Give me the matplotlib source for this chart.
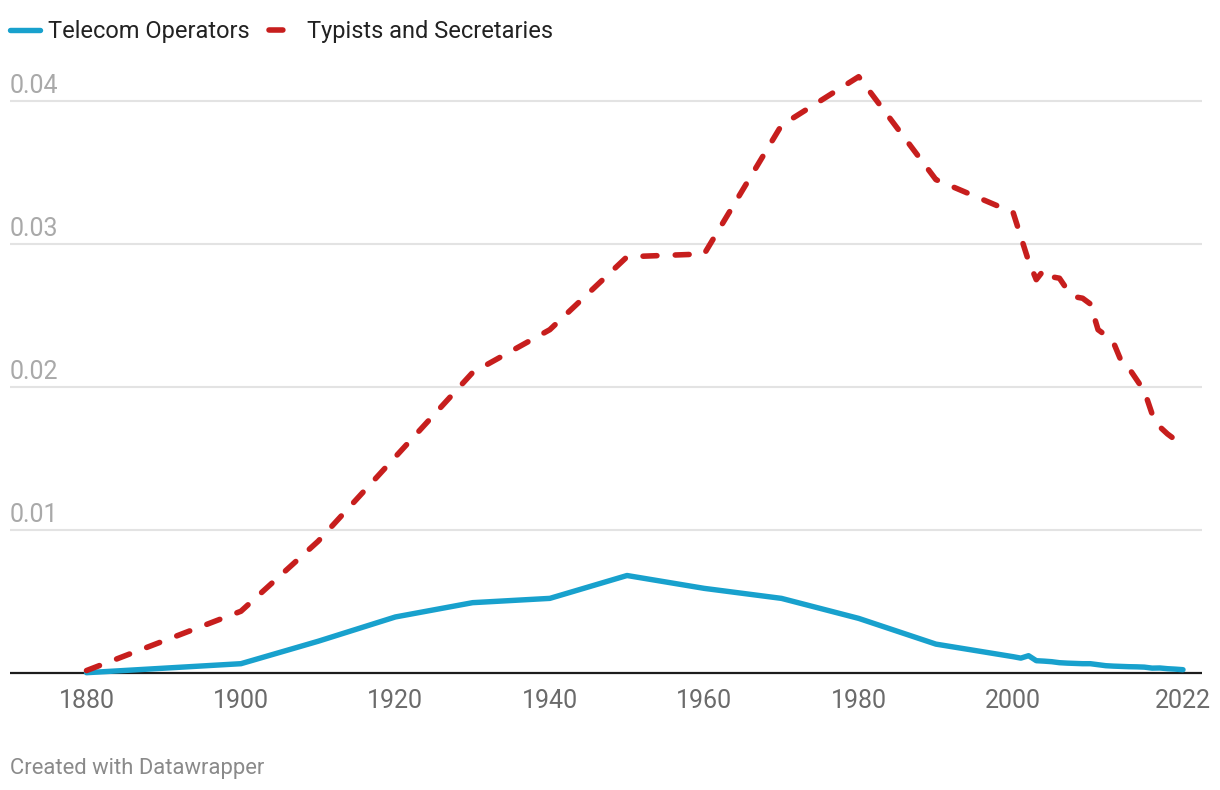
import matplotlib
matplotlib.use("Agg")
import matplotlib.pyplot as plt

plt.rcParams['font.family'] = ['Roboto', 'DejaVu Sans']

years = [1880, 1900, 1910, 1920, 1930, 1940, 1950, 1960, 1970, 1980, 1990,
         2000, 2001, 2002, 2003, 2004, 2005, 2006, 2007, 2008, 2009, 2010,
         2011, 2012, 2013, 2014, 2015, 2016, 2017, 2018, 2019, 2020, 2021, 2022]

telecom = [0.0000, 0.00063, 0.0022, 0.0039, 0.0049, 0.0052, 0.0068, 0.0059, 0.0052, 0.0038, 0.0020,
           0.00112, 0.00102, 0.00119, 0.00084, 0.00081, 0.00077, 0.00070, 0.00067, 0.00065, 0.00063, 0.00063,
           0.00056, 0.00049, 0.00046, 0.00044, 0.00042, 0.00041, 0.00039, 0.00032, 0.00033, 0.00028, 0.00025, 0.00021]

typists = [0.00015, 0.0043, 0.0092, 0.0151, 0.0210, 0.0240, 0.0291, 0.0293, 0.0383, 0.0417, 0.0345,
           0.0322, 0.0305, 0.0288, 0.0275, 0.0282, 0.0277, 0.0276, 0.0268, 0.0263, 0.0262, 0.0258,
           0.0240, 0.0236, 0.0231, 0.0218, 0.0213, 0.0205, 0.0197, 0.0181, 0.0172, 0.0167, 0.0163, 0.0158]

series_names = ["Telecom Operators", "Typists and Secretaries"]
x_ticks = [1880, 1900, 1920, 1940, 1960, 1980, 2000, 2022]
y_ticks = [0.01, 0.02, 0.03, 0.04]
y_tick_labels = ["0.01", "0.02", "0.03", "0.04"]
credit = "Created with Datawrapper"

BLUE = "#18a1cd"
RED = "#c71e1d"

W, H = 1220, 790
fig = plt.figure(figsize=(W / 100, H / 100), dpi=100)
ax_left, ax_right, ax_top, ax_bottom = 10, 1202, 62, 690
ax = fig.add_axes([ax_left / W, (H - ax_bottom) / H, (ax_right - ax_left) / W, (ax_bottom - ax_top) / H])

px_per_year = (1183 - 86.5) / (2022 - 1880)
x0 = 1880 - (86.5 - ax_left) / px_per_year
x1 = 2022 + (ax_right - 1183) / px_per_year
px_per_unit = (672.7 - 101) / 0.04
y1 = (672.7 - ax_top) / px_per_unit
y0 = -(ax_bottom - 672.7) / px_per_unit
ax.set_xlim(x0, x1)
ax.set_ylim(y0, y1)

for s in ax.spines.values():
    s.set_visible(False)

ax.set_yticks(y_ticks)
ax.yaxis.grid(True, color="#e3e3e3", linewidth=1.5)
ax.tick_params(axis='y', length=0, labelleft=False)
ax.set_axisbelow(True)
for v, lab in zip(y_ticks, y_tick_labels):
    ax.annotate(lab, xy=(0, v), xycoords=('axes fraction', 'data'),
                xytext=(0, 5.5), textcoords='offset points',
                ha='left', va='baseline', fontsize=18, color="#a9a9a9")

ax.axhline(0, color="#1d1d1d", linewidth=1.6, zorder=2)

ax.set_xticks(x_ticks)
ax.set_xticklabels([str(t) for t in x_ticks])
ax.tick_params(axis='x', length=0, pad=-1, labelsize=18, labelcolor="#6b6b6b")

ax.plot(years, telecom, color=BLUE, linewidth=3.9, solid_capstyle='round',
        solid_joinstyle='round', zorder=3, label=series_names[0])
ax.plot(years, typists, color=RED, linewidth=4.0, dashes=(2.5, 3.3),
        dash_capstyle='round', dash_joinstyle='round', zorder=4, label=series_names[1])

leg = fig.legend(loc='upper left', bbox_to_anchor=(10 / W, 1 - 20 / H), ncol=2,
                 frameon=False, fontsize=17, handlelength=1.25, handletextpad=0.35,
                 columnspacing=0.85, borderpad=0, borderaxespad=0, labelcolor="#222222")

fig.text(10 / W, 1 - 774 / H, credit, ha='left', va='baseline', fontsize=15.8, color="#8a8a8a")

fig.savefig("out.png", dpi=100)
